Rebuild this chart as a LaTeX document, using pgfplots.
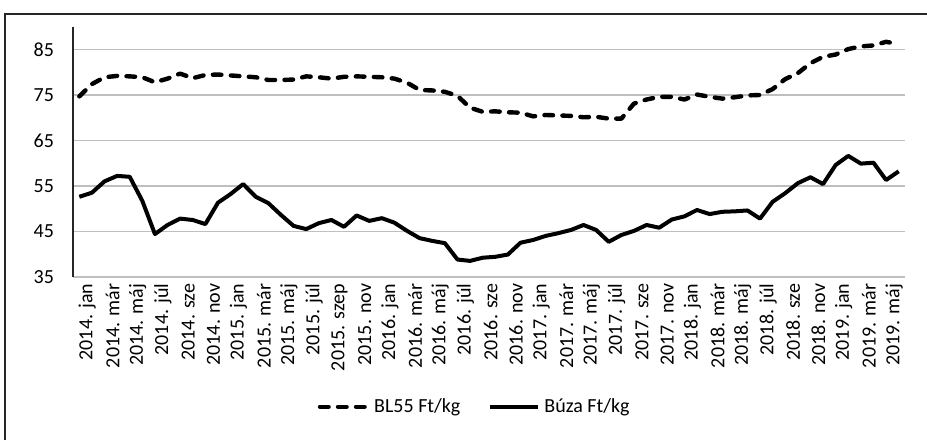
\documentclass[border=0pt]{standalone}
\usepackage{pgfplots}
\pgfplotsset{compat=1.18}
\usepackage{pgfplotstable}
\usepackage{fontspec}
\setmainfont{Carlito}

% month index, BL55, Buza
\pgfplotstableread{
i  bl    buza
0  74.7  52.6
1  77.4  53.5
2  78.9  56.0
3  79.2  57.2
4  79.1  57.0
5  78.9  51.7
6  77.8  44.4
7  78.6  46.4
8  79.7  47.8
9  78.7  47.5
10 79.4  46.6
11 79.5  51.3
12 79.3  53.2
13 79.1  55.4
14 78.9  52.6
15 78.3  51.2
16 78.3  48.6
17 78.4  46.2
18 79.1  45.5
19 78.9  46.8
20 78.6  47.5
21 79.0  46.0
22 79.1  48.5
23 79.0  47.3
24 78.9  47.9
25 78.6  46.9
26 77.7  45.1
27 76.1  43.5
28 76.0  42.9
29 75.7  42.4
30 74.8  38.8
31 72.2  38.5
32 71.3  39.2
33 71.4  39.4
34 71.2  39.9
35 71.1  42.5
36 70.3  43.1
37 70.6  44.0
38 70.5  44.6
39 70.4  45.3
40 70.1  46.4
41 70.2  45.3
42 69.8  42.7
43 69.8  44.2
44 73.1  45.1
45 74.0  46.4
46 74.6  45.8
47 74.6  47.6
48 74.0  48.3
49 75.1  49.7
50 74.6  48.8
51 74.2  49.3
52 74.5  49.4
53 74.9  49.6
54 75.0  47.8
55 76.3  51.5
56 78.5  53.4
57 79.8  55.6
58 82.0  56.9
59 83.4  55.4
60 83.9  59.6
61 85.1  61.6
62 85.7  59.9
63 85.9  60.1
64 86.7  56.3
65 86.2  58.2
}\prices

\begin{document}
\begin{tikzpicture}
\useasboundingbox (0,0) rectangle (463.5pt,220pt);
\draw[line width=0.8pt, black!85] (2.5pt,0) -- (2.5pt,213pt) -- (463.5pt,213pt);
\begin{axis}[
  at={(36.5pt,81.6pt)}, anchor=south west,
  scale only axis, width=416pt, height=125pt,
  xmin=-0.5, xmax=65.5,
  ymin=35, ymax=90,
  ytick={35,45,55,65,75,85},
  xtick={0,2,...,64},
  xticklabels={2014. jan,2014. már,2014. máj,2014. júl,2014. sze,2014. nov,
    2015. jan,2015. már,2015. máj,2015. júl,2015. szep,2015. nov,
    2016. jan,2016. már,2016. máj,2016. júl,2016. sze,2016. nov,
    2017. jan,2017. már,2017. máj,2017. júl,2017. sze,2017. nov,
    2018. jan,2018. már,2018. máj,2018. júl,2018. sze,2018. nov,
    2019. jan,2019. már,2019. máj},
  axis x line*=bottom, axis y line*=left,
  x axis line style={draw=none},
  y axis line style={-, black!85, line width=0.6pt},
  major tick length=0pt,
  ymajorgrids,
  grid style={black!25, line width=0.8pt},
  tick label style={font=\fontsize{10}{12}\selectfont},
  /pgf/number format/assume math mode=true,
  yticklabel style={xshift=-6pt},
  xticklabel style={rotate=90, anchor=east, yshift=-4pt},
  legend style={at={(0.484,-0.52)}, anchor=center, draw=none,
    legend columns=2, font=\fontsize{10}{12}\selectfont,
    /tikz/every even column/.append style={column sep=12pt}},
  legend image code/.code={\draw[#1] (0pt,0pt) -- (24pt,0pt);},
]
\addplot[black, line width=2.2pt, line cap=round, line join=round,
  dash pattern=on 4.3pt off 4.7pt] table[x=i, y=bl] {\prices};
\addlegendentry{BL55 Ft/kg}
\addplot[black, line width=2pt, line join=round] table[x=i, y=buza] {\prices};
\addlegendentry{Búza Ft/kg}
\end{axis}
\end{tikzpicture}
\end{document}
